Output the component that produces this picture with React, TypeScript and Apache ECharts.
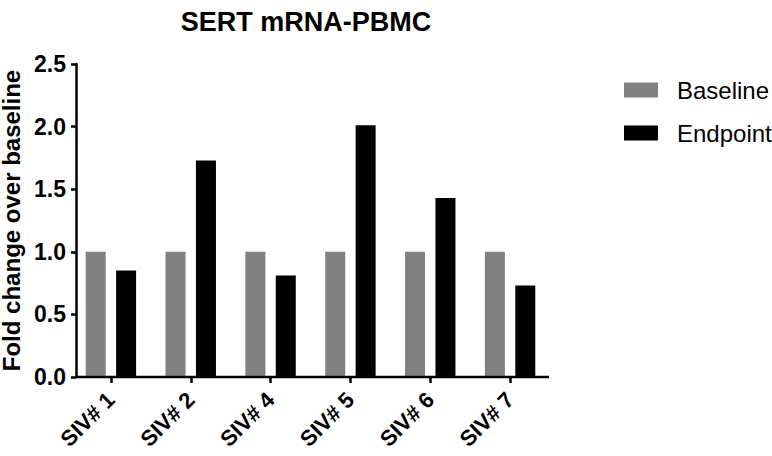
import React, { useEffect, useRef } from "react";
import * as echarts from "echarts";

const categories = ["SIV# 1", "SIV# 2", "SIV# 4", "SIV# 5", "SIV# 6", "SIV# 7"];
const baseline = [1.0, 1.0, 1.0, 1.0, 1.0, 1.0];
const endpoint = [0.85, 1.73, 0.81, 2.01, 1.43, 0.73];
const seriesNames = ["Baseline", "Endpoint"];
const yMin = 0;
const yMax = 2.5;
const yStep = 0.5;

const FONT = 'Arial, "Liberation Sans", sans-serif';

export default function App() {
  const ref = useRef<HTMLDivElement>(null);
  useEffect(() => {
    if (!ref.current) return;
    const chart = echarts.init(ref.current, undefined, { renderer: "svg" });
    const gridLeft = 71;
    const gridTop = 64;
    const gridBottom = 79;
    const H = 456;
    const zeroY = H - gridBottom;
    chart.setOption({
      animation: false,
      backgroundColor: "#fff",
      title: {
        text: "SERT mRNA-PBMC",
        left: 301,
        top: 3,
        textAlign: "center",
        textStyle: { fontFamily: FONT, fontWeight: "bold", fontSize: 27, color: "#000" },
      },
      legend: {
        orient: "vertical",
        left: 619,
        top: 73,
        itemWidth: 34,
        itemHeight: 15,
        itemGap: 19,
        icon: "rect",
        data: seriesNames,
        textStyle: { fontFamily: FONT, fontSize: 24, color: "#000", padding: [0, 0, 0, 14] },
      },
      grid: {
        left: gridLeft,
        right: 222,
        top: gridTop,
        bottom: gridBottom,
        containLabel: false,
        outerBoundsMode: "none",
      },
      xAxis: {
        type: "category",
        data: categories,
        axisLine: { show: false },
        axisTick: { show: true, alignWithLabel: true, length: 6, lineStyle: { color: "#000", width: 2.5 } },
        axisLabel: {
          rotate: 45,
          margin: 19,
          fontFamily: FONT,
          fontWeight: "bold",
          fontSize: 22,
          color: "#000",
        },
      },
      yAxis: {
        type: "value",
        min: yMin,
        max: yMax,
        interval: yStep,
        offset: -5,
        name: "Fold change over baseline",
        nameLocation: "middle",
        nameGap: 39,
        nameTextStyle: { fontFamily: FONT, fontWeight: "bold", fontSize: 24, color: "#000" },
        axisLine: { show: true, lineStyle: { color: "#000", width: 2.5 } },
        axisTick: { show: true, length: 5, lineStyle: { color: "#000", width: 2.5 } },
        splitLine: { show: false },
        axisLabel: {
          margin: 10,
          fontFamily: FONT,
          fontWeight: "bold",
          fontSize: 23,
          color: "#000",
          formatter: (v: number) => v.toFixed(1),
        },
      },
      graphic: [
        {
          type: "line",
          z: 100,
          shape: { x1: 75, y1: zeroY, x2: 549, y2: zeroY },
          style: { stroke: "#000", lineWidth: 2.5 },
        },
      ],
      series: [
        {
          name: seriesNames[0],
          type: "bar",
          data: baseline,
          barWidth: 20,
          barGap: "52%",
          itemStyle: { color: "#808080" },
        },
        {
          name: seriesNames[1],
          type: "bar",
          data: endpoint,
          barWidth: 20,
          itemStyle: { color: "#000000" },
        },
      ],
    });
    return () => chart.dispose();
  }, []);
  return <div ref={ref} style={{ width: 772, height: 456, position: "absolute", left: 0, top: 0 }} />;
}
